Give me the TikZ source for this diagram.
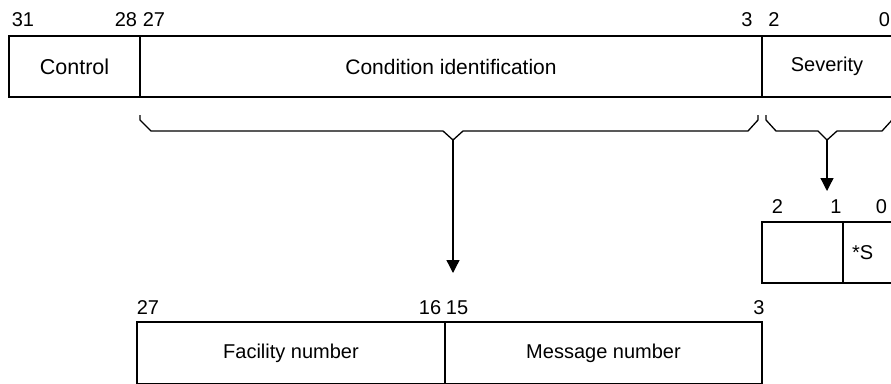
\documentclass[tikz,border=0pt]{standalone}
\usepackage{fontspec}
\setmainfont{Liberation Sans}
\usetikzlibrary{arrows.meta}

\begin{document}
\begin{tikzpicture}[x=1pt,y=-1pt,line width=1.3pt,
    field/.style={draw, minimum height=61pt, inner sep=0pt, font=\fontsize{20}{24}\selectfont},
    bitno/.style={anchor=base, inner sep=0pt, font=\fontsize{20}{24}\selectfont},
    brace/.style={line join=miter},
    >={Triangle[width=13pt,length=13pt]}]
  \useasboundingbox (0,0) rectangle (891,383);
  \clip (0,0) rectangle (891,383);
  % status word
  \node[field, minimum width=131pt, font=\fontsize{21.5}{24}\selectfont] (ctrl) at (74.5,66.5) {Control};
  \node[field, minimum width=622pt, font=\fontsize{21}{24}\selectfont] (cond) at (451,66.5) {Condition identification};
  \node[field, minimum width=130pt] (sev) at (827,66.5) {Severity};
  \node[bitno] (b31) at (23,26) {31};
  \node[bitno] (b28) at (126,26) {28};
  \node[bitno] (b27) at (154,26) {27};
  \node[bitno] (b3) at (747,26) {3};
  \node[bitno] (b2) at (774,26) {2};
  \node[bitno] (b0) at (884.5,26) {0};
  % braces
  \draw[brace] (140,115) -- (140,120) -- (151,131) -- (443,131) -- (453,140) -- (463,131) -- (748,131) -- (758,120) -- (758,115);
  \draw[brace] (766,115) -- (766,120) -- (776,131) -- (818,131) -- (827,140) -- (837,131) -- (882,131) -- (892,120) -- (892,115);
  \coordinate (condtip) at (453,140);
  \coordinate (condend) at (453,273);
  \coordinate (sevtip) at (827,140);
  \coordinate (sevend) at (827,191);
  \draw[->] (condtip) -- (condend);
  \draw[->] (sevtip) -- (sevend);
  % severity bits
  \node[field, minimum width=81pt] (sev21) at (802.5,252.5) {};
  \node[field, minimum width=49pt, inner xsep=9pt, text width=31pt, align=left] (sev0) at (867.5,252.5) {*S};
  \node[bitno] (s2) at (777.5,213) {2};
  \node[bitno] (s1) at (836,213) {1};
  \node[bitno] (s0) at (881.5,213) {0};
  % condition identification
  \node[field, minimum width=308pt, minimum height=62pt] (fac) at (291,353) {Facility number};
  \node[field, minimum width=317pt, minimum height=62pt] (msg) at (603.5,353) {Message number};
  \node[bitno] (c27) at (148,314) {27};
  \node[bitno] (c16) at (430,314) {16};
  \node[bitno] (c15) at (457,314) {15};
  \node[bitno] (c3) at (759,314) {3};
\end{tikzpicture}
\end{document}
